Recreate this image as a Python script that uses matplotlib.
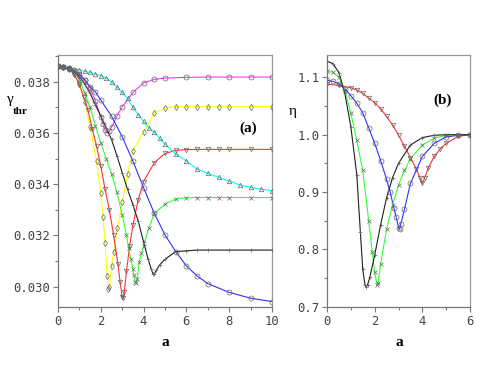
import matplotlib
matplotlib.use("Agg")
import matplotlib.pyplot as plt
from matplotlib.ticker import MultipleLocator, FormatStrFormatter

# ---------------- Panel (a) data: gamma_thr vs a ----------------
a_mag = [0, 0.25, 0.5, 0.75, 1.0, 1.25, 1.5, 1.75, 2.0, 2.1, 2.2, 2.3, 2.4, 2.5, 2.75, 3.0, 3.5, 4.0, 4.5, 5, 6, 7, 8, 9, 10]
g_mag = [.03860, .03859, .03855, .03845, .03826, .03805, .03776, .03725, .03663, .03635, .03610, .03600, .03606, .03622, .03665, .03702, .03758, .03795, .03809, .03814, .03817, .03818, .03818, .03818, .03818]

a_yel = [0, 0.25, 0.5, 0.75, 1.0, 1.25, 1.5, 1.8, 2.0, 2.1, 2.2, 2.3, 2.35, 2.4, 2.5, 2.6, 2.78, 3.0, 3.25, 3.5, 4.0, 4.5, 5.0, 5.5, 6, 6.5, 7, 7.5, 8, 9, 10]
g_yel = [.0386, .03858, .0385, .0383, .0379, .0372, .03625, .0349, .03365, .03272, .0317, .0304, .02992, .0300, .0308, .03135, .0323, .0333, .0344, .0353, .03605, .03678, .03698, .03702, .03703, .03703, .03703, .03703, .03703, .03703, .03703]

a_red = [0, 0.25, 0.5, 0.75, 1.0, 1.2, 1.4, 1.6, 1.8, 2.0, 2.2, 2.4, 2.6, 2.8, 2.9, 3.0, 3.05, 3.1, 3.2, 3.35, 3.5, 3.75, 4.0, 4.5, 5.0, 5.5, 6, 6.5, 7, 7.5, 8, 9, 10]
g_red = [.0386, .03858, .0385, .0383, .0379, .0374, .0369, .03615, .0355, .0347, .0338, .0330, .0320, .0309, .0302, .02960, .02955, .0298, .0306, .0316, .0324, .0334, .0341, .03484, .0352, .03532, .03535, .03536, .03536, .03536, .03536, .03536, .03536]

a_grn = [0, 0.25, 0.5, 0.75, 1.0, 1.25, 1.5, 1.75, 2.0, 2.25, 2.5, 2.75, 3.0, 3.2, 3.3, 3.4, 3.5, 3.55, 3.6, 3.65, 3.7, 3.8, 3.9, 4.0, 4.25, 4.5, 5, 5.5, 6, 6.5, 7, 7.5, 8, 9, 10]
g_grn = [.0386, .03858, .0385, .0384, .0381, .03755, .0370, .03627, .0356, .0350, .0344, .0337, .0328, .0320, .0315, .0311, .0307, .03045, .0302, .03015, .0303, .03098, .0313, .0316, .0323, .03286, .03322, .03342, .03347, .03348, .03348, .03348, .03348, .03348, .03348]

a_blk = [0, 0.25, 0.5, 0.75, 1.0, 1.25, 1.5, 1.75, 2.0, 2.25, 2.5, 2.75, 3.0, 3.25, 3.5, 3.75, 4.0, 4.2, 4.35, 4.45, 4.5, 4.6, 4.75, 5.0, 5.5, 6, 6.5, 7, 8, 9, 10]
g_blk = [.0386, .03858, .0385, .0384, .0382, .0379, .03755, .0371, .03665, .0362, .03575, .03512, .03445, .0338, .0332, .03255, .03175, .0311, .0307, .03048, .0305, .03065, .03085, .03107, .03137, .0314, .03143, .03143, .03143, .03143, .03143]

a_blu = [0, 0.25, 0.5, 0.75, 1.0, 1.25, 1.5, 1.75, 2.0, 2.5, 3.0, 3.5, 4.0, 4.5, 5.0, 5.5, 6, 6.5, 7, 8, 9, 10]
g_blu = [.0386, .03858, .03853, .0384, .0383, .03808, .0378, .0376, .03728, .03666, .03585, .0349, .03386, .03286, .03202, .03137, .03081, .03042, .03012, .02978, .02955, .02942]

a_cyn = [0, 0.5, 1.0, 1.25, 1.5, 1.75, 2.0, 2.25, 2.5, 2.75, 3.0, 3.25, 3.5, 3.75, 4.0, 4.25, 4.5, 4.75, 5.0, 5.5, 6.0, 6.5, 7, 7.5, 8, 8.5, 9, 9.5, 10]
g_cyn = [.0386, .03855, .03846, .0384, .03836, .0383, .03824, .03814, .038, .0378, .03758, .03735, .037, .03672, .03645, .0362, .03603, .0358, .03556, .03518, .03491, .03459, .03442, .03427, .03412, .03397, .03388, .0338, .03375]

# ---------------- Panel (b) data: eta vs a ----------------
b_blk = [0, 0.25, 0.5, 0.75, 1.0, 1.25, 1.4, 1.5, 1.6, 1.65, 1.7, 1.8, 2.0, 2.25, 2.5, 2.75, 3.0, 3.5, 4.0, 4.5, 5, 5.5, 6]
e_blk = [1.128, 1.124, 1.108, 1.072, 1.014, 0.93, 0.83, 0.765, 0.737, 0.735, 0.738, 0.752, 0.790, 0.843, 0.890, 0.925, 0.950, 0.982, 0.995, 0.999, 1.0, 1.0, 1.0]

b_grn = [0, 0.25, 0.5, 0.75, 1.0, 1.25, 1.5, 1.75, 1.9, 2.0, 2.1, 2.15, 2.25, 2.5, 2.75, 3.0, 3.25, 3.5, 4.0, 4.5, 5.0, 5.5, 6]
e_grn = [1.111, 1.109, 1.100, 1.078, 1.037, 0.99, 0.938, 0.850, 0.795, 0.760, 0.738, 0.742, 0.775, 0.835, 0.878, 0.912, 0.938, 0.958, 0.982, 0.994, 0.999, 1.0, 1.0]

b_blu = [0, 0.25, 0.5, 0.75, 1.0, 1.25, 1.5, 1.75, 2.0, 2.25, 2.5, 2.65, 2.8, 2.9, 3.0, 3.05, 3.1, 3.25, 3.5, 4.0, 4.5, 5.0, 5.5, 6]
e_blu = [1.095, 1.093, 1.089, 1.080, 1.068, 1.055, 1.038, 1.012, 0.985, 0.955, 0.922, 0.900, 0.873, 0.857, 0.838, 0.835, 0.845, 0.870, 0.915, 0.962, 0.985, 0.996, 0.999, 1.0]

b_red = [0, 0.5, 1.0, 1.25, 1.5, 1.75, 2.0, 2.25, 2.5, 2.75, 3.0, 3.25, 3.5, 3.75, 3.9, 4.0, 4.1, 4.25, 4.5, 4.75, 5.0, 5.5, 6]
e_red = [1.088, 1.086, 1.082, 1.078, 1.072, 1.064, 1.056, 1.045, 1.032, 1.017, 0.999, 0.980, 0.960, 0.940, 0.925, 0.915, 0.925, 0.942, 0.962, 0.975, 0.985, 0.997, 1.0]

x_ticks_a = [0, 2, 4, 6, 8, 10]
y_ticks_a = [0.030, 0.032, 0.034, 0.036, 0.038]
x_ticks_b = [0, 2, 4, 6]
y_ticks_b = [0.7, 0.8, 0.9, 1.0, 1.1]

MC = "#666666"
LW = 0.8

fig = plt.figure(figsize=(4.84, 3.74), dpi=100)
ax1 = fig.add_axes([58/484, 1-307/374, 214/484, 252/374])
ax2 = fig.add_axes([327/484, 1-307/374, 143/484, 252/374])

def draw(ax, x, y, col, mk, ms=3.2):
    ax.plot(x, y, color=col, lw=LW, zorder=2)
    ax.plot(x, y, ls="none", marker=mk, ms=ms, mfc="none", mec=MC, mew=0.5, zorder=3)

draw(ax1, a_mag, g_mag, "#ff33ff", "o", 3.6)
draw(ax1, a_yel, g_yel, "#ffff00", "d", 3.2)
draw(ax1, a_red, g_red, "#ff3030", "v", 3.2)
draw(ax1, a_grn, g_grn, "#33ff33", "x", 3.0)
draw(ax1, a_blk, g_blk, "#202020", "+", 3.4)
draw(ax1, a_blu, g_blu, "#3030ff", "o", 3.6)
draw(ax1, a_cyn, g_cyn, "#00ffff", "^", 3.2)

draw(ax2, b_red, e_red, "#ff3030", "v", 3.2)
draw(ax2, b_blu, e_blu, "#3030ff", "o", 3.6)
draw(ax2, b_grn, e_grn, "#33ff33", "x", 3.0)
draw(ax2, b_blk, e_blk, "#202020", "+", 3.4)

ax1.set_xlim(0, 10)
ax1.set_ylim(0.029208, 0.039042)
ax2.set_xlim(0, 6)
ax2.set_ylim(0.6995, 1.139)

mono = "DejaVu Sans Mono"
for ax, xt, yt, yfmt, ymin in [(ax1, x_ticks_a, y_ticks_a, "%.3f", 0.001),
                                (ax2, x_ticks_b, y_ticks_b, "%.1f", 0.05)]:
    ax.set_xticks(xt)
    ax.set_yticks(yt)
    ax.xaxis.set_minor_locator(MultipleLocator(1))
    ax.yaxis.set_minor_locator(MultipleLocator(ymin))
    ax.yaxis.set_major_formatter(FormatStrFormatter(yfmt))
    ax.tick_params(which="both", direction="out", color="#777777", width=0.8, length=3.5,
                   labelsize=8.8, labelcolor="#444444", pad=2)
    ax.tick_params(which="minor", length=2.5)
    for lab in ax.get_xticklabels() + ax.get_yticklabels():
        lab.set_fontfamily(mono)
    for s in ax.spines.values():
        s.set_color("#999999")
        s.set_linewidth(0.9)
    ax.spines["left"].set_color("#777777")
    ax.spines["bottom"].set_color("#777777")

serif = "Liberation Serif"
fig.text(165/484, 1-343/374, "a", fontsize=11, fontweight="bold", family=serif, ha="center", va="center")
fig.text(399/484, 1-343/374, "a", fontsize=11, fontweight="bold", family=serif, ha="center", va="center")
fig.text(10/484, 1-99/374, "γ", fontsize=11, family=serif, ha="center", va="center")
fig.text(20/484, 1-112/374, "thr", fontsize=8, fontweight="bold", family=serif, ha="center", va="center")
fig.text(293/484, 1-112/374, "η", fontsize=11, family=serif, ha="center", va="center")
fig.text(248/484, 1-128/374, "(a)", fontsize=11, fontweight="bold", family=serif, ha="center", va="center")
fig.text(443/484, 1-100/374, "(b)", fontsize=11, fontweight="bold", family=serif, ha="center", va="center")

fig.savefig("out.png", dpi=100)
